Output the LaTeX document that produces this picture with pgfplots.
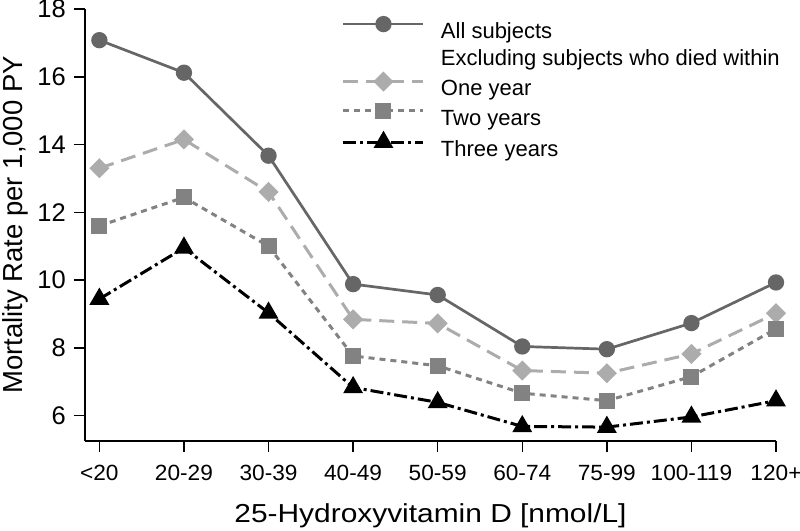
\documentclass[border=0pt]{standalone}
\usepackage{fontspec}
\setmainfont{Liberation Sans}
\usepackage{pgfplots}
\pgfplotsset{compat=1.18}
\definecolor{cAll}{RGB}{102,102,102}
\definecolor{cOne}{RGB}{172,172,172}
\definecolor{cTwo}{RGB}{130,130,130}
\begin{document}
\begin{tikzpicture}
\begin{axis}[
  at={(0,0)}, anchor=south west,
  scale only axis, width=691bp, height=432bp,
  xmin=-0.17, xmax=8, ymin=5.25, ymax=18,
  axis lines=left,
  axis line style={-, line width=1.5bp, black},
  xtick={0,...,8},
  xticklabels={<20,20-29,30-39,40-49,50-59,60-74,75-99,100-119,120+},
  ytick={6,8,...,18},
  tick align=outside,
  major tick length=11bp,
  tick style={line width=1.5bp, black},
  /pgf/number format/assume math mode=true,
  xticklabel style={font=\fontsize{22bp}{24bp}\selectfont, xscale=1.03, anchor=base, inner sep=0pt, yshift=-28bp},
  yticklabel style={font=\fontsize{25.5bp}{28bp}\selectfont, anchor=east, inner sep=0pt, xshift=-8bp},
  xlabel={25-Hydroxyvitamin D [nmol/L]},
  ylabel={Mortality Rate per 1,000 PY},
  xlabel style={font=\fontsize{26bp}{30bp}\selectfont, xscale=1.15, at={(axis description cs:0.5,0)}, anchor=base, yshift=-81bp, inner sep=0pt},
  ylabel style={font=\fontsize{27.5bp}{32bp}\selectfont, at={(axis description cs:-0.0902,0.5)}, anchor=base, inner sep=0pt},
  clip=false,
  legend cell align=left,
  legend style={draw=none, fill=none, at={(axis description cs:0.3719,0.9808)}, anchor=north west,
    inner sep=0pt, outer sep=0pt, font=\fontsize{22bp}{26bp}\selectfont,
    column sep=16bp, row sep=7bp,
    nodes={inner sep=0pt}},
  legend image code/.code={\draw[mark repeat=2, mark phase=2] plot coordinates {(0bp,6bp) (40bp,6bp) (80bp,6bp)};},
]
\addplot[cAll, line width=2.7bp, mark=*, mark size=6.8bp, mark options={solid, fill=cAll, draw=cAll}]
  coordinates {(0,17.08) (1,16.12) (2,13.67) (3,9.88) (4,9.56) (5,8.04) (6,7.96) (7,8.73) (8,9.93)};
\addlegendentry{\strut All subjects}
\addlegendimage{empty legend}
\addlegendentry{\strut Excluding subjects who died within}
\addplot[cOne, line width=3bp, dash pattern=on 15bp off 8bp, mark=square*, mark size=5.6bp, mark options={solid, rotate=45, fill=cOne, draw=cOne}]
  coordinates {(0,13.30) (1,14.15) (2,12.60) (3,8.84) (4,8.72) (5,7.33) (6,7.25) (7,7.82) (8,9.02)};
\addlegendentry{\strut One year}
\addplot[cTwo, line width=3bp, dash pattern=on 6bp off 5bp, mark=square*, mark size=6.5bp, mark options={solid, fill=cTwo, draw=cTwo}]
  coordinates {(0,11.60) (1,12.44) (2,11.00) (3,7.76) (4,7.47) (5,6.66) (6,6.44) (7,7.15) (8,8.56)};
\addlegendentry{\strut Two years}
\addplot[black, line width=3bp, dash pattern=on 13bp off 4bp on 3bp off 4bp, mark=triangle*, mark size=8.5bp, mark options={solid, fill=black, draw=black}]
  coordinates {(0,9.44) (1,10.95) (2,9.03) (3,6.83) (4,6.39) (5,5.68) (6,5.66) (7,5.96) (8,6.44)};
\addlegendentry{\strut Three years}
\end{axis}
\pgfresetboundingbox
\useasboundingbox (-85bp,-90bp) rectangle (715bp,441bp);
\end{tikzpicture}
\end{document}
